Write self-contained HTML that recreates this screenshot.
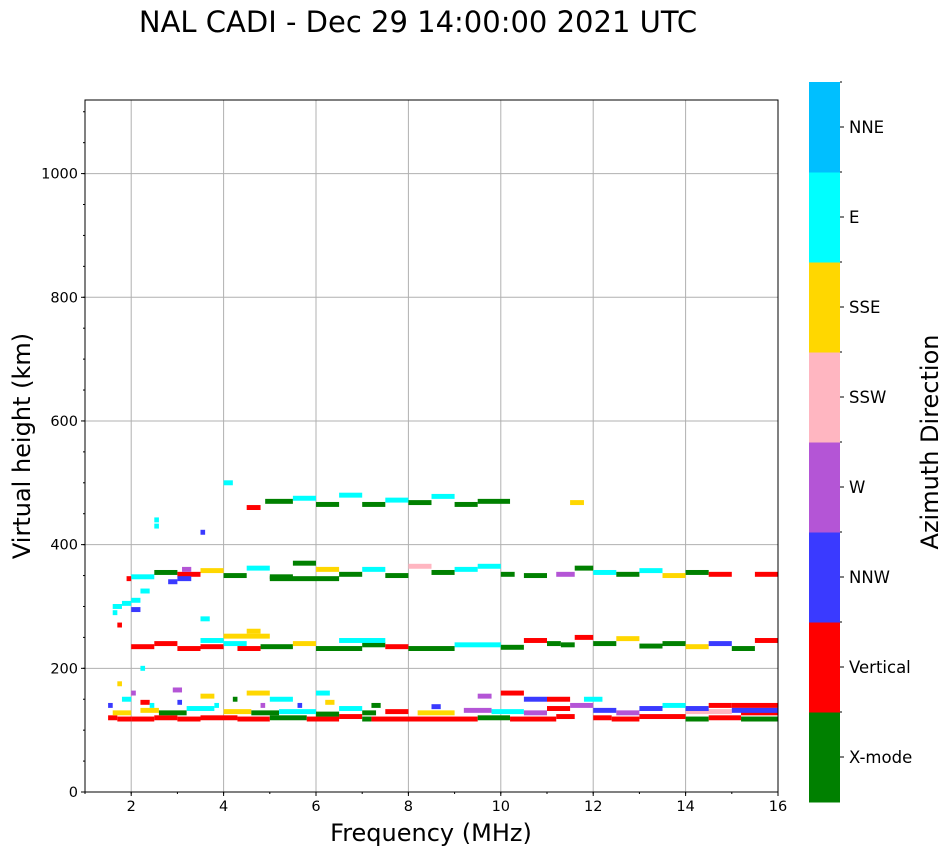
<!DOCTYPE html>
<html><head><meta charset="utf-8"><style>
body{margin:0;background:#fff;}
svg{display:block;font-family:"DejaVu Sans","Liberation Sans",sans-serif;}
</style></head><body>
<svg id="chart" width="951" height="856">
<text x="418" y="32" font-size="29" text-anchor="middle">NAL CADI - Dec 29 14:00:00 2021 UTC</text>
<g id="grid"></g><g id="marks"></g><g id="axes"></g><g id="cbar"></g>
<text x="431" y="841" font-size="24" text-anchor="middle">Frequency (MHz)</text>
<text transform="translate(30,446) rotate(-90)" font-size="24" text-anchor="middle">Virtual height (km)</text>
<text transform="translate(938,442) rotate(-90)" font-size="24" text-anchor="middle">Azimuth Direction</text>
</svg>
<script>
const directions=["X-mode","Vertical","NNW","W","SSW","SSE","E","NNE"];
const dirColors=["#008000","#ff0000","#3a3aff","#b455d6","#ffb6c1","#ffd700","#00ffff","#00bfff"];
const xTicks=[2,4,6,8,10,12,14,16];
const yTicks=[0,200,400,600,800,1000];
const echoes=[
[1.5,1.7,120,1],[1.7,2.0,118,1],[2.0,2.5,118,1],[2.5,3.0,120,1],[3.0,3.5,118,1],[3.5,4.3,120,1],[4.3,5.0,118,1],[5.0,5.8,120,0],[5.8,6.5,118,1],[6.5,7.0,122,1],[7.0,7.2,118,0],[7.2,8.5,118,1],[8.5,9.5,118,1],[9.5,10.2,120,0],[10.2,11.2,118,1],[11.2,11.6,122,1],[12.0,12.4,120,1],[12.4,13.0,118,1],[13.0,14.0,122,1],[14.0,14.5,118,0],[14.5,15.2,120,1],[15.2,16,118,0],[15.2,16,128,1],[14,15,130,4],
[1.6,2.0,128,5],[2.2,2.6,132,5],[2.6,3.2,128,0],[3.2,3.8,135,6],[4,4.6,130,5],[4.6,5.2,128,0],[5.2,6,130,6],[6,6.5,126,0],[6.5,7,135,6],[7,7.3,128,0],[7.5,8,130,1],[8.2,9,128,5],[9.2,9.8,132,3],[9.8,10.5,130,6],[10.5,11,128,3],[11,11.5,135,1],[11.5,12,140,3],[12,12.5,132,2],[12.5,13,128,3],[13,13.5,135,2],[13.5,14,140,6],[14,14.5,135,2],[14.5,15,140,1],[15,16,140,1],[15,16,132,2],[10.5,11,150,2],[11,11.5,150,1],[11.8,12.2,150,6],[10,10.5,160,1],[9.5,9.8,155,3],[8.5,8.7,138,2],[4.5,5,160,5],[5,5.5,150,6],[6,6.3,160,6],[2.9,3.1,165,3],[3.5,3.8,155,5],[2.2,2.4,145,1],[1.8,2.0,150,6],
[1.5,1.6,140,2],[1.7,1.8,175,5],[2.0,2.1,160,3],[2.4,2.5,140,6],[3.0,3.1,145,2],[3.8,3.9,140,6],[4.2,4.3,150,0],[4.8,4.9,140,3],[5.6,5.7,140,2],[6.2,6.4,145,5],[7.2,7.4,140,0],
[2,2.5,235,1],[2.5,3,240,1],[3,3.5,232,1],[3.5,4,235,1],[4,4.5,240,6],[4.3,4.8,232,1],[4.8,5.5,235,0],[5.5,6,240,5],[6,7,232,0],[7,7.5,238,0],[7.5,8,235,1],[8,9,232,0],[9,10,238,6],[10,10.5,234,0],[10.5,11,245,1],[11,11.3,240,0],[11.3,11.6,238,0],[11.6,12,250,1],[12,12.5,240,0],[12.5,13,248,5],[13,13.5,236,0],[13.5,14,240,0],[14,14.5,235,5],[14.5,15,240,2],[15,15.5,232,0],[15.5,16,245,1],[4,5,252,5],[4.5,4.8,260,5],[3.5,4,245,6],[6.5,7.5,245,6],
[2,2.5,348,6],[2.5,3,355,0],[3,3.5,352,1],[3.5,4,358,5],[4,4.5,350,0],[4.5,5,362,6],[5,5.5,348,0],[5.5,6,370,0],[6,6.5,360,5],[6.5,7,352,0],[7,7.5,360,6],[7.5,8,350,0],[8,8.5,365,4],[8.5,9,355,0],[9,9.5,360,6],[9.5,10,365,6],[10,10.3,352,0],[10.5,11,350,0],[11.2,11.6,352,3],[11.6,12,362,0],[12,12.5,355,6],[12.5,13,352,0],[13,13.5,358,6],[13.5,14,350,5],[14,14.5,355,0],[14.5,15,352,1],[15.5,16,352,1],[5,6,345,0],[6,6.5,345,0],[3,3.3,345,2],
[4.5,4.8,460,1],[4.9,5.5,470,0],[5.5,6,475,6],[6,6.5,465,0],[6.5,7,480,6],[7,7.5,465,0],[7.5,8,472,6],[8,8.5,468,0],[8.5,9,478,6],[9,9.5,465,0],[9.5,10.2,470,0],[11.5,11.8,468,5],[4,4.2,500,6],
[1.6,1.8,300,6],[1.8,2.0,305,6],[2.0,2.2,310,6],[2.2,2.4,325,6],[2.5,2.6,440,6],[2.8,3.0,340,2],[3.1,3.3,360,3],[3.5,3.6,420,2],[3.5,3.7,280,6],[1.7,1.8,270,1],[2.0,2.2,295,2],[1.9,2.0,345,1],[2.5,2.6,430,6],[2.2,2.3,200,6],[1.6,1.7,290,6]
];
const NS="http://www.w3.org/2000/svg";
const L=85,R=778,T=100,B=792,xMin=1,xMax=16,yMin=0,yMax=1119;
const xs=f=>L+(f-xMin)/(xMax-xMin)*(R-L);
const ys=h=>B-(h-yMin)/(yMax-yMin)*(B-T);
function mk(tag,attrs,parent){const e=document.createElementNS(NS,tag);for(const k in attrs)e.setAttribute(k,attrs[k]);parent.appendChild(e);return e;}
const grid=document.getElementById('grid'),marks=document.getElementById('marks'),axes=document.getElementById('axes'),cbar=document.getElementById('cbar');
xTicks.forEach(t=>{const x=xs(t);
 const g=mk('line',{x1:x,x2:x,y1:T,y2:B,stroke:'#b0b0b0','stroke-width':1},grid);
 
 
 mk('line',{x1:x,x2:x,y1:B,y2:B+4,stroke:'#000'},axes);
 const tx=mk('text',{x:x,y:B+19,'font-size':14.5,'text-anchor':'middle'},axes);tx.textContent=t;
 
 
});
for(let m=1;m<=16;m++){mk('line',{x1:xs(m),x2:xs(m),y1:B,y2:B+2,stroke:'#000'},axes);}
yTicks.forEach(t=>{const y=ys(t);
 const g=mk('line',{x1:L,x2:R,y1:y,y2:y,stroke:'#b0b0b0','stroke-width':1},grid);
 
 
 mk('line',{x1:L-4,x2:L,y1:y,y2:y,stroke:'#000'},axes);
 const tx=mk('text',{x:L-7,y:y+5,'font-size':14.5,'text-anchor':'end'},axes);tx.textContent=t;
 
 
});
for(let m=0;m<=1100;m+=50){mk('line',{x1:L-2,x2:L,y1:ys(m),y2:ys(m),stroke:'#000'},axes);}
const frame=mk('rect',{x:L,y:T,width:R-L,height:B-T,fill:'none',stroke:'#000'},axes);


echoes.forEach(e=>{
 const r=mk('rect',{x:xs(e[0]),y:ys(e[2]+4),width:xs(e[1])-xs(e[0]),height:ys(e[2]-4)-ys(e[2]+4),fill:dirColors[e[3]]},marks);
 
 
});
const cT=82,cB=802,cL=809,cW=31,bh=(cB-cT)/directions.length;
directions.forEach((d,i)=>{
 const y=cB-(i+1)*bh;
 const r=mk('rect',{x:cL,y:y,width:cW,height:bh+0.5,fill:dirColors[i]},cbar);
 
 
 mk('line',{x1:cL+cW,x2:cL+cW+4,y1:y+bh/2,y2:y+bh/2,stroke:'#000'},cbar);
 mk('line',{x1:cL+cW,x2:cL+cW+2,y1:y,y2:y,stroke:'#000'},cbar);
 const tx=mk('text',{x:cL+cW+9,y:y+bh/2+6,'font-size':16.5},cbar);tx.textContent=d;
 
 
});
</script>
</body></html>
